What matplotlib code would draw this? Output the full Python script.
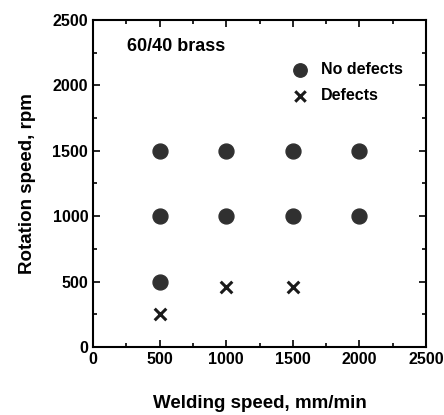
import matplotlib.pyplot as plt
from matplotlib.ticker import MultipleLocator

plt.rcParams['font.family'] = ['Liberation Sans', 'DejaVu Sans']
plt.rcParams['font.weight'] = 'bold'

# welding speed (mm/min), rotation speed (rpm)
ok_speed = [500, 1000, 1500, 2000, 500, 1000, 1500, 2000, 500]
ok_rpm = [1500, 1500, 1500, 1500, 1000, 1000, 1000, 1000, 500]
bad_speed = [500, 1000, 1500]
bad_rpm = [250, 460, 460]

fig = plt.figure(figsize=(4.44, 4.15), dpi=100)
ax = fig.add_axes([0.2095, 0.164, 0.75, 0.788])

ax.scatter(ok_speed, ok_rpm, s=115, color='#303030', label='No defects', zorder=3)
ax.scatter(bad_speed, bad_rpm, s=70, marker='x', color='#1a1a1a', linewidths=2.2,
           label='Defects', zorder=3)

ax.set_xlim(0, 2500)
ax.set_ylim(0, 2500)
ax.xaxis.set_major_locator(MultipleLocator(500))
ax.yaxis.set_major_locator(MultipleLocator(500))
ax.xaxis.set_minor_locator(MultipleLocator(250))
ax.yaxis.set_minor_locator(MultipleLocator(250))
ax.tick_params(which='both', direction='in', top=True, right=True, labelsize=11.5, width=1.2)
ax.tick_params(which='major', length=5)
ax.tick_params(which='minor', length=3)
for sp in ax.spines.values():
    sp.set_linewidth(1.5)

ax.set_xlabel('Welding speed, mm/min', fontsize=13.5, fontweight='bold', labelpad=20)
ax.set_ylabel('Rotation speed, rpm', fontsize=13.5, fontweight='bold', labelpad=12)
ax.text(255, 2260, '60/40 brass', fontsize=13, fontweight='bold')

ax.legend(loc='upper right', bbox_to_anchor=(0.95, 0.89), frameon=False, fontsize=11.5,
          handletextpad=0.3, labelspacing=0.7, borderaxespad=0, markerscale=0.9)

fig.savefig('out.png', dpi=100)
